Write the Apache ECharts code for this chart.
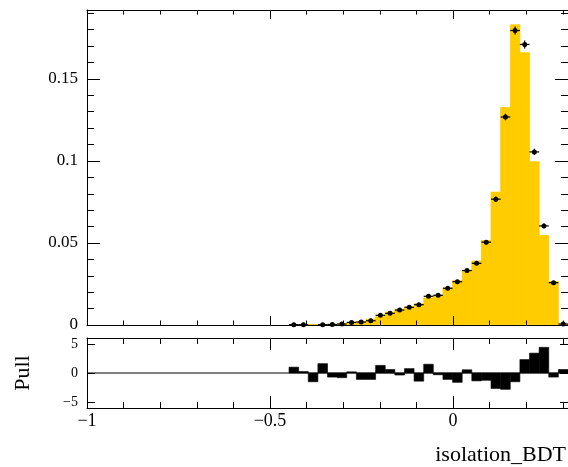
<!DOCTYPE html>
<html><head><meta charset="utf-8">
<script src="https://cdn.jsdelivr.net/npm/echarts@6/dist/echarts.min.js"></script>
<style>html,body{margin:0;padding:0;background:#fff}#c{width:568px;height:467px}</style>
</head><body><div id="c"></div>
<script>
// ---- data ----
const binLo = -1, binHi = 0.314, nBins = 50;
const modelValues = [
  0,0,0,0,0,0,0,0,0,0, 0,0,0,0,0,0,0,0,0,0, 0,
  0.0001,0.0001,0.0002,0.0003,0.0005,0.0008,0.0012,0.0020,0.0035,0.0051,
  0.0078,0.0095,0.0110,0.0130,0.0165,0.0180,0.0226,0.0270,0.0330,0.0390,
  0.0515,0.0810,0.1325,0.1830,0.1660,0.0995,0.0545,0.0264,0.0005];
const dataValues = [
  null,null,null,null,null,null,null,null,null,null, null,null,null,null,null,null,null,null,null,null, null,
  0.0002,0.0002,null,0.0002,0.0003,0.0006,0.0016,0.0018,0.0026,0.0059,
  0.0071,0.0091,0.0108,0.0124,0.0175,0.0181,0.0224,0.0264,0.0332,0.0376,
  0.0505,0.0767,0.1268,0.1795,0.1710,0.1055,0.0604,0.0258,0.0006];
const dataErrors = [
  null,null,null,null,null,null,null,null,null,null, null,null,null,null,null,null,null,null,null,null, null,
  0.0001,0.0001,null,0.0001,0.0001,0.00015,0.0002,0.0002,0.0003,0.0004,
  0.0005,0.0005,0.0006,0.0006,0.0007,0.0007,0.0008,0.0009,0.0010,0.0011,
  0.0013,0.0016,0.0020,0.0025,0.0024,0.0019,0.0014,0.0009,0.00015];
const pullValues = [
  0,0,0,0,0,0,0,0,0,0, 0,0,0,0,0,0,0,0,0,0, 0,
  1.0,0.25,-1.5,1.6,-0.7,-0.8,0.2,-1.1,-1.1,1.3,
  0.6,-0.35,0.75,-1.4,1.5,-0.3,-1.1,-1.6,0.55,-1.35,
  -1.25,-2.65,-2.8,-1.5,2.3,3.4,4.4,-0.7,0.6];
const xMajorTicks = [-1, -0.5, 0];
const xMinorTicks = [-0.9,-0.8,-0.7,-0.6,-0.4,-0.3,-0.2,-0.1,0.1,0.2,0.3];
const yMajorTicks = [0, 0.05, 0.1, 0.15];
const yMinorTicks = [0.01,0.02,0.03,0.04,0.06,0.07,0.08,0.09,0.11,0.12,0.13,0.14,0.16,0.17,0.18,0.19];
const pullTicks = [-5, 0, 5];
const yMax = 0.192, pullMin = -6, pullMax = 6;
const xTitle = 'isolation_BDT', pullTitle = 'Pull';

// ---- build ----
const bw = (binHi - binLo) / nBins;
const histData = modelValues.map((v, i) => [binLo + i * bw, binLo + (i + 1) * bw, v]);
const pointData = [];
dataValues.forEach((v, i) => { if (v !== null) pointData.push([binLo + i * bw, binLo + (i + 1) * bw, v, dataErrors[i]]); });
const pullData = pullValues.map((v, i) => [binLo + i * bw, binLo + (i + 1) * bw, v]);

const FONT = 'Liberation Serif';
const fmt = v => (v < 0 ? '\u2212' + String(Math.abs(v)) : String(v));

function xAx(grid, pos, ticks, len, line, labels) {
  return {
    type: 'value', gridIndex: grid, position: pos, min: binLo, max: binHi, z: 10,
    axisLine: { show: line, onZero: false, lineStyle: { color: '#000', width: 1 } },
    axisTick: { show: true, inside: true, length: len, customValues: ticks, lineStyle: { color: '#000', width: 1 } },
    axisLabel: labels ? { show: true, customValues: ticks, formatter: fmt, fontFamily: FONT, fontSize: 18, color: '#000', margin: 4 } : { show: false },
    splitLine: { show: false }
  };
}
function yAx(grid, pos, min, max, ticks, len, line, labels, fs, margin) {
  return {
    type: 'value', gridIndex: grid, position: pos, min: min, max: max, z: 10,
    axisLine: { show: line, onZero: false, lineStyle: { color: '#000', width: 1 } },
    axisTick: { show: true, inside: true, length: len, customValues: ticks, lineStyle: { color: '#000', width: 1 } },
    axisLabel: labels ? { show: true, customValues: ticks, formatter: fmt, fontFamily: FONT, fontSize: fs, color: '#000', margin: margin } : { show: false },
    splitLine: { show: false }
  };
}

const option = {
  animation: false,
  backgroundColor: '#fff',
  grid: [
    { left: 87, top: 10, width: 481, height: 315 },
    { left: 87, top: 338, width: 481, height: 70 }
  ],
  xAxis: [
    xAx(0, 'bottom', xMajorTicks, 9, true, false),
    xAx(0, 'bottom', xMinorTicks, 4.5, false, false),
    xAx(0, 'top', xMajorTicks, 9, true, false),
    xAx(0, 'top', xMinorTicks, 4.5, false, false),
    xAx(1, 'bottom', xMajorTicks, 12, true, true),
    xAx(1, 'bottom', xMinorTicks, 6, false, false),
    xAx(1, 'top', xMajorTicks, 12, true, false),
    xAx(1, 'top', xMinorTicks, 6, false, false)
  ],
  yAxis: [
    yAx(0, 'left', 0, yMax, yMajorTicks, 13, true, true, 17, 9),
    yAx(0, 'left', 0, yMax, yMinorTicks, 7, false, false),
    yAx(0, 'right', 0, yMax, yMajorTicks, 13, true, false),
    yAx(0, 'right', 0, yMax, yMinorTicks, 7, false, false),
    yAx(1, 'left', pullMin, pullMax, pullTicks, 8, true, true, 14, 9),
    yAx(1, 'right', pullMin, pullMax, pullTicks, 8, true, false)
  ],
  series: [
    {
      type: 'custom', xAxisIndex: 0, yAxisIndex: 0, silent: true, z: 2,
      data: histData, encode: { x: [0, 1], y: 2 },
      renderItem: function (params, api) {
        if (!(api.value(2) > 0)) return null;
        const a = api.coord([api.value(0), api.value(2)]);
        const b = api.coord([api.value(1), 0]);
        return { type: 'rect', shape: { x: a[0], y: a[1], width: b[0] - a[0], height: b[1] - a[1] - 0.5 }, style: { fill: '#ffcc00', stroke: '#ffcc00', lineWidth: 0.8 } };
      }
    },
    {
      type: 'custom', xAxisIndex: 0, yAxisIndex: 0, silent: true, z: 4,
      data: pointData, encode: { x: [0, 1], y: 2 },
      renderItem: function (params, api) {
        const lo = api.value(0), hi = api.value(1), v = api.value(2), e = api.value(3);
        const c = (lo + hi) / 2;
        const pl = api.coord([lo, v]), ph = api.coord([hi, v]);
        const pd = api.coord([c, v - e]), pu = api.coord([c, v + e]);
        const pc = api.coord([c, v]);
        const st = { stroke: '#000', lineWidth: 1.2 };
        return {
          type: 'group', children: [
            { type: 'line', shape: { x1: pl[0], y1: pl[1], x2: ph[0], y2: ph[1] }, style: st },
            { type: 'line', shape: { x1: pd[0], y1: pd[1], x2: pu[0], y2: pu[1] }, style: st },
            { type: 'circle', shape: { cx: pc[0], cy: pc[1], r: 2.5 }, style: { fill: '#000' } }
          ]
        };
      }
    },
    {
      type: 'custom', xAxisIndex: 4, yAxisIndex: 4, silent: true, z: 2,
      data: pullData, encode: { x: [0, 1], y: 2 },
      renderItem: function (params, api) {
        if (api.value(2) === 0) return null;
        const a = api.coord([api.value(0), api.value(2)]);
        const b = api.coord([api.value(1), 0]);
        const y0 = Math.min(a[1], b[1]), h = Math.abs(b[1] - a[1]);
        return { type: 'rect', shape: { x: a[0], y: y0, width: b[0] - a[0], height: h }, style: { fill: '#000', stroke: '#000', lineWidth: 0.6 } };
      }
    },
    {
      type: 'line', xAxisIndex: 4, yAxisIndex: 4, silent: true, z: 3, symbol: 'none',
      data: [[binLo, 0], [binHi, 0]], lineStyle: { color: '#000', width: 1 }
    }
  ],
  graphic: [
    { type: 'text', right: 2, top: 444, style: { text: xTitle, fontFamily: FONT, fontSize: 22, fill: '#000' } },
    { type: 'text', x: 23, y: 373, rotation: Math.PI / 2, style: { text: pullTitle, x: 0, y: 0, align: 'center', verticalAlign: 'middle', fontFamily: FONT, fontSize: 22, fill: '#000' } }
  ]
};
const chart = echarts.init(document.getElementById('c'), null, { renderer: 'canvas' });
chart.setOption(option);
</script>
</body></html>
